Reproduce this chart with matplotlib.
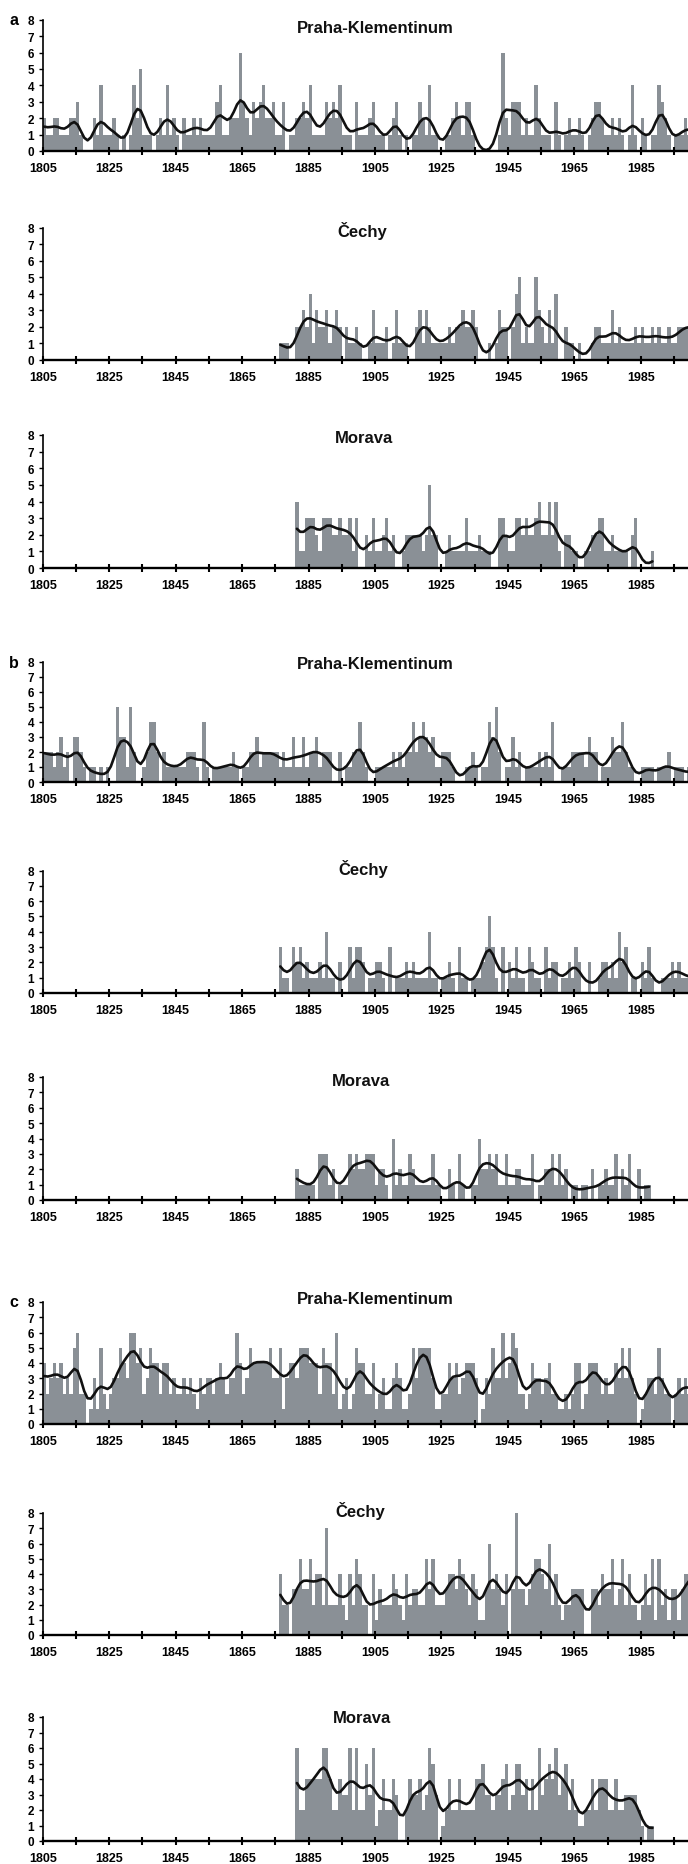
import numpy as np
import matplotlib
matplotlib.use('Agg')
import matplotlib.pyplot as plt
from matplotlib import font_manager

plt.rcParams['font.family'] = ['Liberation Sans', 'DejaVu Sans']

installed = {f.name for f in font_manager.fontManager.ttflist}
tick_family = ['Liberation Sans Narrow', 'Liberation Sans'] if 'Liberation Sans Narrow' in installed else ['Liberation Sans']

# yearly counts; Praha-Klementinum series start in 1805, Čechy in 1876, Morava in 1881
praha_a = [2, 1, 1, 2, 2, 1, 1, 1, 2, 2,
           3, 1, 0, 0, 0, 2, 1, 4, 1, 1,
           1, 2, 1, 0, 1, 0, 1, 4, 2, 5,
           1, 1, 1, 0, 1, 2, 1, 4, 1, 2,
           1, 0, 2, 1, 1, 2, 1, 2, 1, 1,
           1, 1, 3, 4, 1, 1, 2, 2, 2, 6,
           3, 2, 1, 3, 2, 3, 4, 2, 2, 3,
           1, 1, 3, 0, 1, 1, 2, 2, 3, 2,
           4, 1, 1, 1, 1, 3, 2, 3, 2, 4,
           1, 1, 1, 0, 3, 1, 1, 1, 2, 3,
           1, 1, 1, 0, 1, 2, 3, 1, 0, 1,
           0, 1, 1, 3, 2, 1, 4, 1, 1, 0,
           0, 1, 1, 2, 3, 2, 1, 3, 3, 1,
           0, 0, 0, 0, 0, 0, 0, 1, 6, 2,
           1, 3, 3, 3, 1, 2, 1, 1, 4, 2,
           1, 1, 1, 0, 3, 1, 0, 1, 2, 1,
           1, 2, 1, 0, 1, 2, 3, 3, 2, 1,
           1, 2, 1, 2, 1, 0, 1, 4, 1, 0,
           2, 1, 0, 1, 1, 4, 3, 2, 1, 0,
           1, 1, 1, 2, 1]

cechy_a = [1, 1, 1, 0, 0, 2, 2, 3, 2, 4,
           1, 3, 2, 2, 3, 1, 2, 3, 2, 0,
           2, 1, 1, 2, 1, 0, 0, 1, 3, 1,
           1, 1, 2, 0, 1, 3, 1, 1, 1, 0,
           0, 2, 3, 1, 3, 2, 1, 1, 1, 1,
           1, 2, 1, 2, 2, 3, 2, 2, 3, 2,
           0, 0, 0, 1, 0, 1, 3, 2, 2, 0,
           2, 4, 5, 1, 2, 1, 1, 5, 3, 2,
           1, 3, 1, 4, 0, 0, 2, 1, 1, 0,
           1, 0, 0, 0, 1, 2, 2, 1, 1, 1,
           3, 1, 2, 1, 1, 1, 1, 2, 1, 2,
           1, 1, 2, 1, 2, 1, 1, 2, 1, 1,
           2, 2, 2, 2]

morava_a = [4, 1, 1, 3, 3, 3, 2, 1, 3, 3,
            3, 2, 2, 3, 2, 2, 3, 1, 3, 0,
            0, 2, 1, 3, 1, 1, 2, 3, 1, 2,
            0, 0, 1, 2, 2, 2, 2, 2, 1, 2,
            5, 2, 2, 0, 0, 1, 2, 1, 1, 1,
            1, 3, 1, 1, 1, 2, 1, 1, 1, 0,
            0, 3, 3, 2, 1, 1, 3, 3, 2, 3,
            2, 2, 3, 4, 2, 2, 4, 2, 4, 1,
            0, 2, 2, 1, 1, 0, 0, 1, 1, 2,
            2, 3, 3, 1, 1, 2, 1, 1, 1, 1,
            0, 2, 3, 0, 0, 0, 0, 1]

praha_b = [2, 2, 2, 1, 2, 3, 1, 2, 0, 3,
           3, 2, 1, 0, 1, 1, 0, 1, 0, 1,
           0, 0, 5, 3, 3, 1, 5, 2, 0, 0,
           1, 2, 4, 4, 2, 0, 2, 1, 1, 1,
           1, 1, 1, 2, 2, 2, 1, 0, 4, 1,
           0, 1, 1, 1, 1, 1, 1, 2, 1, 0,
           1, 1, 2, 2, 3, 1, 2, 2, 2, 2,
           2, 1, 2, 1, 1, 3, 1, 1, 3, 1,
           2, 2, 3, 1, 2, 2, 2, 0, 0, 2,
           0, 1, 1, 2, 2, 4, 2, 1, 0, 0,
           1, 1, 1, 1, 1, 2, 1, 2, 1, 2,
           2, 4, 2, 3, 4, 3, 2, 3, 1, 1,
           2, 2, 2, 1, 0, 0, 0, 1, 1, 2,
           1, 0, 1, 1, 4, 3, 5, 2, 0, 1,
           1, 3, 1, 2, 0, 1, 1, 1, 1, 2,
           1, 2, 1, 4, 0, 0, 1, 1, 1, 2,
           2, 2, 2, 1, 3, 2, 2, 0, 1, 1,
           1, 3, 2, 2, 4, 2, 1, 1, 0, 0,
           1, 1, 1, 1, 0, 1, 1, 1, 2, 0,
           1, 1, 1, 0, 1]

cechy_b = [3, 1, 1, 0, 3, 2, 3, 1, 2, 1,
           1, 1, 2, 1, 4, 1, 1, 0, 2, 0,
           0, 3, 1, 3, 3, 2, 0, 1, 1, 2,
           2, 1, 0, 3, 0, 1, 1, 1, 2, 1,
           2, 1, 1, 1, 1, 4, 1, 1, 0, 1,
           1, 2, 1, 0, 3, 1, 1, 0, 1, 1,
           1, 2, 3, 5, 3, 1, 0, 3, 0, 2,
           1, 3, 1, 1, 0, 3, 2, 1, 1, 0,
           3, 1, 2, 2, 0, 1, 1, 2, 1, 3,
           2, 0, 0, 2, 0, 0, 1, 2, 2, 1,
           2, 1, 4, 2, 3, 0, 1, 1, 0, 2,
           1, 3, 1, 0, 0, 1, 1, 1, 2, 1,
           2, 1, 1, 1]

morava_b = [2, 1, 1, 1, 1, 1, 0, 3, 3, 3,
            1, 2, 0, 1, 1, 1, 3, 2, 3, 2,
            2, 3, 3, 3, 1, 2, 2, 1, 0, 4,
            1, 2, 1, 1, 3, 2, 1, 1, 1, 1,
            1, 3, 1, 1, 0, 0, 2, 1, 0, 3,
            1, 0, 0, 1, 1, 4, 2, 2, 3, 2,
            3, 1, 1, 3, 1, 1, 2, 2, 1, 1,
            1, 3, 0, 1, 1, 2, 2, 3, 1, 3,
            1, 2, 0, 1, 1, 0, 1, 1, 0, 2,
            0, 1, 1, 2, 1, 1, 3, 0, 2, 1,
            3, 0, 0, 2, 0, 1, 1]

praha_c = [4, 2, 3, 4, 3, 4, 2, 3, 2, 5,
           6, 2, 2, 0, 1, 3, 1, 5, 2, 1,
           2, 3, 3, 5, 4, 3, 6, 6, 4, 5,
           2, 3, 5, 4, 4, 2, 4, 4, 2, 3,
           2, 2, 3, 2, 3, 2, 1, 3, 2, 3,
           3, 2, 3, 4, 3, 2, 3, 3, 6, 4,
           2, 3, 5, 4, 4, 4, 4, 4, 5, 3,
           3, 5, 1, 3, 4, 4, 3, 5, 5, 5,
           4, 4, 4, 2, 5, 4, 4, 2, 6, 1,
           2, 3, 1, 2, 5, 4, 4, 2, 2, 4,
           1, 2, 3, 1, 1, 3, 4, 3, 1, 1,
           2, 5, 3, 5, 5, 5, 5, 3, 1, 1,
           2, 2, 4, 3, 4, 2, 3, 4, 4, 4,
           3, 0, 1, 3, 2, 5, 3, 3, 6, 3,
           4, 6, 5, 2, 2, 1, 2, 4, 3, 3,
           2, 3, 4, 2, 2, 1, 1, 2, 1, 2,
           4, 4, 1, 2, 4, 4, 4, 3, 2, 3,
           2, 2, 4, 3, 5, 3, 5, 3, 2, 0,
           1, 2, 3, 3, 2, 5, 3, 2, 2, 0,
           2, 3, 2, 3, 2]

cechy_c = [4, 2, 2, 0, 3, 3, 5, 3, 3, 5,
           2, 4, 4, 2, 7, 2, 2, 2, 4, 2,
           1, 4, 2, 5, 4, 2, 2, 0, 4, 1,
           3, 2, 2, 2, 4, 3, 2, 1, 4, 2,
           3, 3, 2, 2, 5, 3, 5, 2, 2, 2,
           3, 4, 4, 3, 5, 4, 3, 2, 4, 3,
           1, 1, 3, 6, 3, 4, 3, 2, 4, 0,
           3, 8, 3, 3, 2, 3, 4, 5, 5, 4,
           3, 6, 2, 4, 2, 1, 2, 2, 3, 3,
           3, 3, 0, 0, 3, 3, 2, 4, 3, 3,
           5, 2, 3, 5, 2, 4, 2, 2, 1, 2,
           4, 2, 5, 1, 5, 2, 3, 1, 3, 3,
           1, 3, 4, 4]

morava_c = [6, 2, 2, 4, 4, 4, 4, 4, 6, 6,
            4, 2, 2, 4, 3, 3, 6, 2, 6, 2,
            2, 5, 3, 6, 1, 2, 4, 2, 2, 4,
            3, 0, 0, 2, 4, 3, 3, 4, 2, 3,
            6, 5, 3, 0, 1, 2, 4, 2, 2, 4,
            2, 2, 2, 2, 4, 4, 5, 3, 3, 2,
            3, 3, 4, 5, 2, 3, 5, 5, 3, 4,
            2, 4, 2, 6, 3, 4, 5, 4, 6, 3,
            4, 5, 2, 4, 2, 1, 1, 2, 2, 4,
            2, 4, 4, 4, 2, 2, 4, 2, 2, 3,
            3, 3, 3, 2, 1, 0, 1, 1]

start_years = {'Praha-Klementinum': 1805, 'Čechy': 1876, 'Morava': 1881}

W, H = 688, 1865
X0 = 42.7
BAR = '#8a9096'


def smooth(v, sigma=1.7):
    v = np.asarray(v, float)
    i = np.arange(len(v))
    w = np.exp(-0.5 * ((i[:, None] - i[None, :]) / sigma) ** 2)
    return w @ v / w.sum(axis=1)


# (values, title, title x, title baseline, axis top, axis bottom) in pixels
panels = [
    (praha_a, 'Praha-Klementinum', 375, 33, 20.7, 152),
    (cechy_a, 'Čechy', 362, 237, 228.5, 360.7),
    (morava_a, 'Morava', 364, 443, 436, 569),
    (praha_b, 'Praha-Klementinum', 375, 669, 663, 783),
    (cechy_b, 'Čechy', 363, 875, 871.5, 994),
    (morava_b, 'Morava', 361, 1086, 1078, 1201),
    (praha_c, 'Praha-Klementinum', 375, 1304, 1303, 1425),
    (cechy_c, 'Čechy', 360, 1517, 1514, 1636),
    (morava_c, 'Morava', 362, 1723, 1718, 1842),
]

fig = plt.figure(figsize=(W / 100, H / 100), dpi=100)

for vals, title, tx, ty, top, bottom in panels:
    ax = fig.add_axes([X0 / W, 1 - bottom / H, 1 - X0 / W, (bottom - top) / H])
    years = np.arange(start_years[title], start_years[title] + len(vals))
    ax.bar(years, vals, width=1.0, align='edge', color=BAR, linewidth=0)
    ax.plot(years + 0.5, smooth(vals), color='#111111', lw=1.9, solid_capstyle='round')

    ax.set_xlim(1805, 1999.2)
    ax.set_ylim(0, 8)
    for s in ('top', 'right'):
        ax.spines[s].set_visible(False)
    ax.spines['left'].set_linewidth(1.2)
    ax.spines['bottom'].set_linewidth(1.7)

    ax.set_yticks(range(0, 9))
    ax.set_xticks(range(1805, 1990, 20))
    ax.set_xticks(range(1815, 2000, 20), minor=True)
    ax.tick_params(axis='y', direction='out', length=3, width=1, pad=3)
    ax.tick_params(axis='x', which='both', direction='inout', length=6, width=1.5, pad=5)
    for lab in ax.get_yticklabels():
        lab.set_family(tick_family)
        lab.set_fontweight('bold')
        lab.set_fontsize(8.5)
    for lab in ax.get_xticklabels():
        lab.set_family(tick_family)
        lab.set_fontweight('bold')
        lab.set_fontsize(9)

    fig.text(tx / W, 1 - ty / H, title, ha='center', va='baseline',
             fontsize=12, fontweight='bold', color='#111111')

for letter, y in (('a', 25), ('b', 668), ('c', 1307)):
    fig.text(9 / W, 1 - y / H, letter, ha='left', va='baseline',
             fontsize=11.5, fontweight='bold')

fig.savefig('out.png', dpi=100)
